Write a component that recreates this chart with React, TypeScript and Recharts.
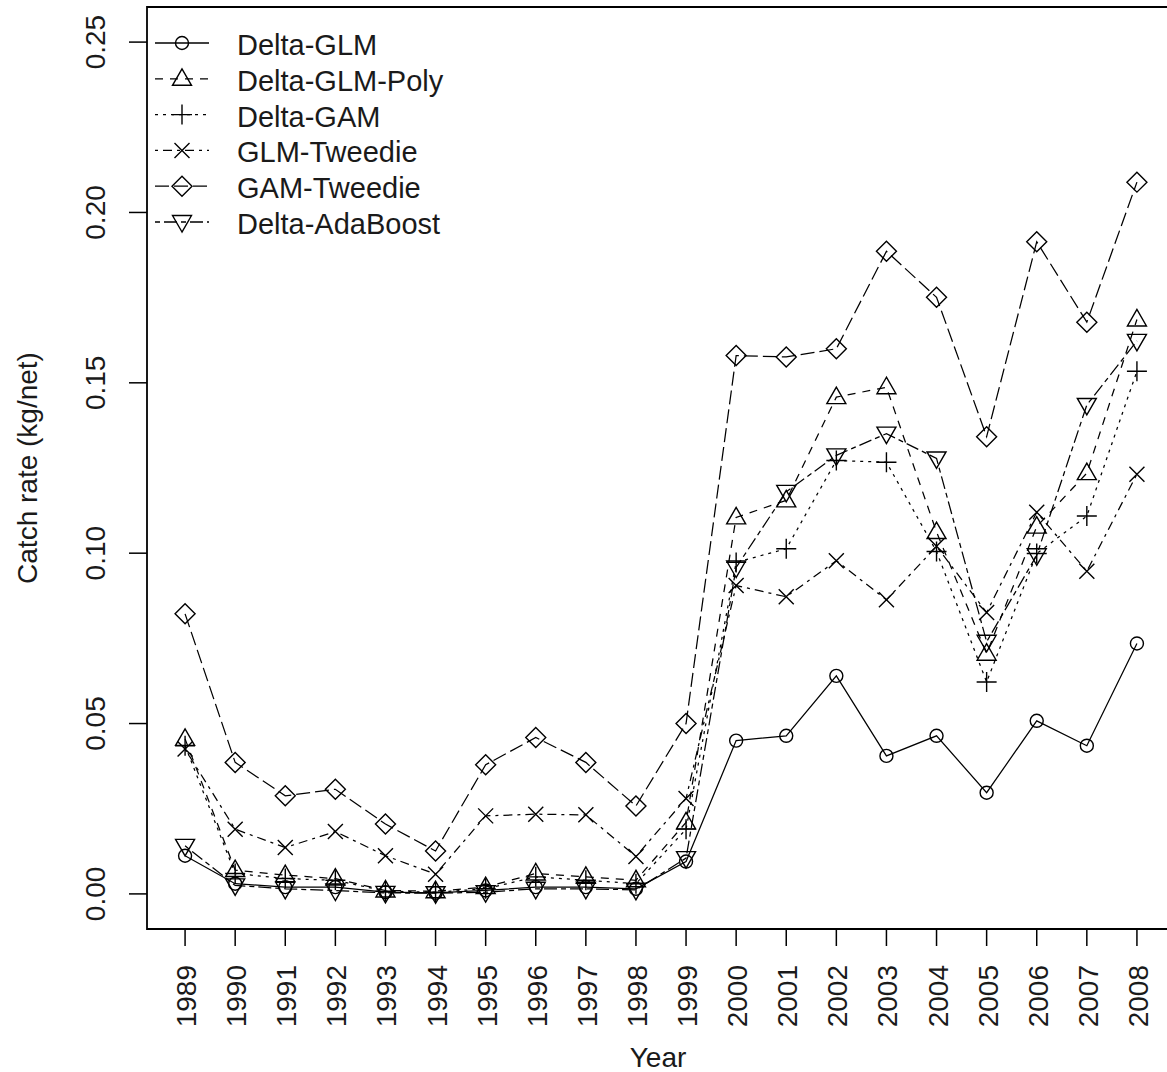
import React from 'react';
import { LineChart, Line, XAxis, YAxis, ReferenceArea, Legend } from 'recharts';

const years = [1989, 1990, 1991, 1992, 1993, 1994, 1995, 1996, 1997, 1998, 1999, 2000, 2001, 2002, 2003, 2004, 2005, 2006, 2007, 2008];

const deltaGlm = [0.0112, 0.003, 0.002, 0.002, 0.0005, 0.0003, 0.001, 0.002, 0.002, 0.0015, 0.0095, 0.045, 0.0464, 0.064, 0.0405, 0.0464, 0.0297, 0.0508, 0.0435, 0.0735];
const deltaGlmPoly = [0.0455, 0.007, 0.0055, 0.0045, 0.001, 0.0008, 0.002, 0.006, 0.005, 0.004, 0.021, 0.1105, 0.1155, 0.1458, 0.1487, 0.1062, 0.0705, 0.1078, 0.1235, 0.1686];
const deltaGam = [0.0435, 0.006, 0.0045, 0.004, 0.0008, 0.0005, 0.0015, 0.005, 0.004, 0.003, 0.019, 0.0973, 0.1013, 0.1272, 0.1267, 0.1005, 0.0622, 0.0999, 0.1109, 0.1534];
const glmTweedie = [0.0425, 0.019, 0.0136, 0.0183, 0.0112, 0.0058, 0.0229, 0.0234, 0.0232, 0.011, 0.028, 0.0905, 0.0872, 0.0978, 0.0863, 0.102, 0.0826, 0.112, 0.0947, 0.1232];
const gamTweedie = [0.0822, 0.0386, 0.0288, 0.0307, 0.0205, 0.0126, 0.0379, 0.0459, 0.0386, 0.0258, 0.05, 0.158, 0.1576, 0.16, 0.1886, 0.1751, 0.1342, 0.1914, 0.1678, 0.2089];
const deltaAdaBoost = [0.0141, 0.0025, 0.0015, 0.001, 0.0003, 0.0002, 0.0005, 0.0015, 0.0015, 0.0012, 0.0105, 0.0958, 0.118, 0.1287, 0.1351, 0.1278, 0.074, 0.0994, 0.1435, 0.1623];

const yTicks = [0, 0.05, 0.1, 0.15, 0.2, 0.25];

const data = years.map((year, i) => ({
  year,
  deltaGlm: deltaGlm[i],
  deltaGlmPoly: deltaGlmPoly[i],
  deltaGam: deltaGam[i],
  glmTweedie: glmTweedie[i],
  gamTweedie: gamTweedie[i],
  deltaAdaBoost: deltaAdaBoost[i],
}));

type Shape = 'circle' | 'triangle' | 'plus' | 'cross' | 'diamond' | 'down';

const series: { key: string; name: string; dash?: string; shape: Shape }[] = [
  { key: 'deltaGlm', name: 'Delta-GLM', shape: 'circle' },
  { key: 'deltaGlmPoly', name: 'Delta-GLM-Poly', dash: '8 7', shape: 'triangle' },
  { key: 'deltaGam', name: 'Delta-GAM', dash: '3 5', shape: 'plus' },
  { key: 'glmTweedie', name: 'GLM-Tweedie', dash: '3 5 9 5', shape: 'cross' },
  { key: 'gamTweedie', name: 'GAM-Tweedie', dash: '14 5', shape: 'diamond' },
  { key: 'deltaAdaBoost', name: 'Delta-AdaBoost', dash: '5 4 13 4', shape: 'down' },
];

const FONT = '"Liberation Sans", Arial, sans-serif';
const INK = '#000';
const TEXT = '#1a1a1a';

function Marker({ shape, cx, cy }: { shape: Shape; cx: number; cy: number }) {
  const s = { fill: 'none', stroke: INK, strokeWidth: 1.4 };
  if (cx == null || cy == null) return <g />;
  switch (shape) {
    case 'circle':
      return <circle cx={cx} cy={cy} r={6.5} {...s} />;
    case 'triangle':
      return <polygon points={`${cx},${cy - 10} ${cx - 9.5},${cy + 6.5} ${cx + 9.5},${cy + 6.5}`} {...s} />;
    case 'down':
      return <polygon points={`${cx},${cy + 10} ${cx - 9.5},${cy - 6.5} ${cx + 9.5},${cy - 6.5}`} {...s} />;
    case 'plus':
      return <path d={`M${cx - 10},${cy}H${cx + 10}M${cx},${cy - 10}V${cy + 10}`} {...s} />;
    case 'cross':
      return <path d={`M${cx - 7.5},${cy - 7.5}L${cx + 7.5},${cy + 7.5}M${cx - 7.5},${cy + 7.5}L${cx + 7.5},${cy - 7.5}`} {...s} />;
    case 'diamond':
      return <polygon points={`${cx},${cy - 10} ${cx + 10},${cy} ${cx},${cy + 10} ${cx - 10},${cy}`} {...s} />;
  }
  return <g />;
}

const XTick = (props: any) => {
  const { x, y, payload } = props;
  const ax = x + 11;
  const ay = y + 19;
  return (
    <text x={ax} y={ay} transform={`rotate(-90, ${ax}, ${ay})`} textAnchor="end" fontSize={28} fontFamily={FONT} fill={TEXT}>
      {payload.value}
    </text>
  );
};

const YTick = (props: any) => {
  const { x, y, payload } = props;
  const ax = x - 24;
  return (
    <text x={ax} y={y} transform={`rotate(-90, ${ax}, ${y})`} textAnchor="middle" fontSize={28} fontFamily={FONT} fill={TEXT}>
      {Number(payload.value).toFixed(2)}
    </text>
  );
};

const LegendBox = () => (
  <svg width={470} height={250} style={{ display: 'block' }}>
    {series.map((s, i) => {
      const y = 43 + i * 35.8;
      return (
        <g key={s.key}>
          <line x1={155} x2={209} y1={y} y2={y} stroke={INK} strokeWidth={1.3} strokeDasharray={s.dash} />
          <Marker shape={s.shape} cx={182} cy={y} />
          <text x={237} y={y + 12} fontSize={29} fontFamily={FONT} fill={TEXT}>{s.name}</text>
        </g>
      );
    })}
  </svg>
);

export default function App() {
  return (
    <div style={{ position: 'absolute', left: 0, top: 0, width: 1167, height: 1072, overflow: 'hidden', background: '#fff' }}>
      <LineChart width={1176} height={1072} data={data} margin={{ top: 7, right: 1, left: 0, bottom: 0 }}>
        <XAxis
          type="number"
          dataKey="year"
          domain={[1988.24, 2008.76]}
          ticks={years}
          interval={0}
          allowDataOverflow
          height={143}
          axisLine={false}
          tickSize={17}
          tickMargin={0}
          tickLine={{ stroke: INK, strokeWidth: 1.5 }}
          tick={<XTick />}
          label={{
            content: (p: any) => {
              const vb = p.viewBox;
              return (
                <text x={vb.x + vb.width / 2 - 3} y={vb.y + 138} textAnchor="middle" fontSize={28} fontFamily={FONT} fill={TEXT}>
                  Year
                </text>
              );
            },
          }}
        />
        <YAxis
          type="number"
          domain={[-0.0103, 0.2603]}
          ticks={yTicks}
          allowDataOverflow
          width={147}
          axisLine={false}
          tickSize={18}
          tickMargin={0}
          tickLine={{ stroke: INK, strokeWidth: 1.5 }}
          tick={<YTick />}
          label={{
            content: (p: any) => {
              const vb = p.viewBox;
              const lx = 37;
              const ly = vb.y + vb.height / 2;
              return (
                <text x={lx} y={ly} transform={`rotate(-90, ${lx}, ${ly})`} textAnchor="middle" fontSize={28} fontFamily={FONT} fill={TEXT}>
                  Catch rate (kg/net)
                </text>
              );
            },
          }}
        />
        <ReferenceArea x1={1988.24} x2={2008.76} y1={-0.0103} y2={0.2603} fill="none" stroke={INK} strokeWidth={1.8} ifOverflow="visible" />
        {series.map((s) => (
          <Line
            key={s.key}
            dataKey={s.key}
            name={s.name}
            type="linear"
            stroke={INK}
            strokeWidth={1.25}
            strokeDasharray={s.dash}
            isAnimationActive={false}
            dot={(p: any) => <Marker key={`${s.key}-${p.index}`} shape={s.shape} cx={p.cx} cy={p.cy} />}
            activeDot={false}
          />
        ))}
        <Legend
          layout="horizontal"
          verticalAlign="middle"
          align="center"
          wrapperStyle={{ position: 'absolute', top: 0, left: 0, width: 470, height: 250 }}
          content={() => <LegendBox />}
        />
      </LineChart>
    </div>
  );
}
